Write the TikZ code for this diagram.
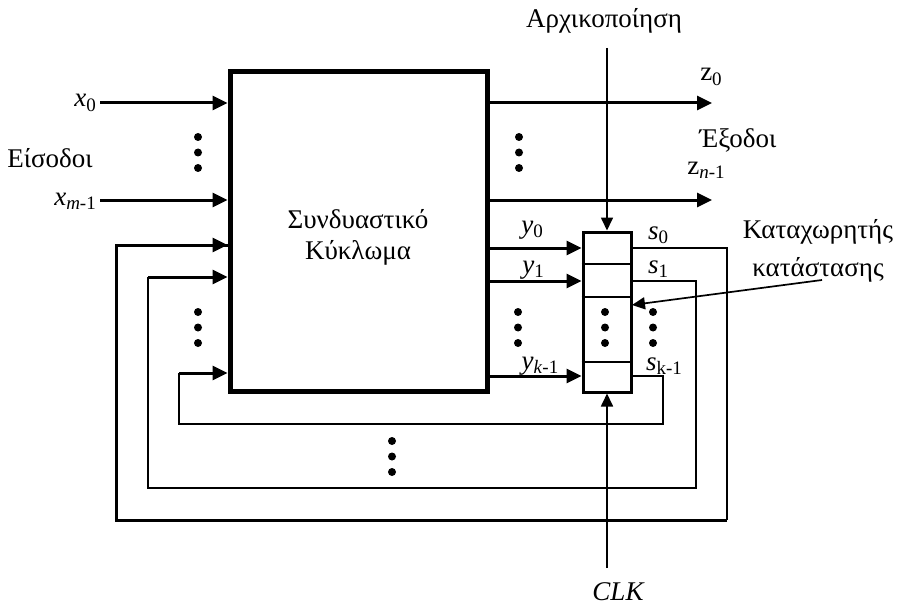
\documentclass[tikz,border=0pt]{standalone}
\usepackage{fontspec}
\setmainfont{Liberation Serif}
\usetikzlibrary{arrows.meta}
\newcommand\sbs[1]{\raisebox{-0.35ex}{\fontsize{19}{19}\selectfont #1}}
\begin{document}
\begin{tikzpicture}[x=1pt,y=-1pt,
  lbl/.style={font=\fontsize{27}{31}\selectfont, inner sep=0pt},
  thickarr/.style={line width=3pt, -{Triangle[length=15pt,width=14pt]}},
  thinarr/.style={line width=1.7pt, -{Triangle[length=13pt,width=12pt]}},
  thinln/.style={line width=1.7pt},
  thickln/.style={line width=3pt},
  dotm/.style={circle, fill, inner sep=0pt, minimum size=8pt},
  rbox/.style={draw, line width=5pt, inner sep=0pt}
]
\useasboundingbox (0,0) rectangle (900,607);

% combinational block
\node[rbox, minimum width=257pt, minimum height=319pt] (box) at (358.5,231.5) {};
\node[lbl, align=center] (boxt) at (358,237) {Συνδυαστικό\\Κύκλωμα};

% register
\node[draw, line width=3pt, inner sep=0pt, minimum width=48pt, minimum height=160pt] (reg) at (607,312) {};
\coordinate (d1) at (607,264);
\coordinate (d2) at (607,297);
\coordinate (d3) at (607,362);
\draw[thinln] (reg.west |- d1) -- (reg.east |- d1);
\draw[thinln] (reg.west |- d2) -- (reg.east |- d2);
\draw[thinln] (reg.west |- d3) -- (reg.east |- d3);

% inputs
\node[lbl, anchor=east] (lx0) at (96,103) {\textit{x}\sbs{0}};
\node[lbl, anchor=east] (lxm) at (96,201) {\textit{x}\sbs{\textit{m}-1}};
\node[lbl] (inp) at (50,158) {Είσοδοι};
\coordinate (x0s) at (100,103);
\coordinate (xms) at (100,200);
\draw[thickarr] (x0s) -- (x0s -| box.west);
\draw[thickarr] (xms) -- (xms -| box.west);

% outputs
\coordinate (z0e) at (712,103);
\coordinate (zne) at (712,200);
\draw[thickarr] (box.east |- z0e) -- (z0e);
\draw[thickarr] (box.east |- zne) -- (zne);
\node[lbl] (lz0) at (711,77) {z\sbs{0}};
\node[lbl] (lzn) at (706,170) {z\sbs{\textit{n}-1}};
\node[lbl] (outp) at (738,140) {Έξοδοι};

% initialization and clock
\node[lbl] (init) at (604,21) {Αρχικοποίηση};
\coordinate (inits) at (607,48);
\draw[thinarr] (inits) -- (reg.north);
\coordinate (clks) at (607,568);
\draw[thinarr] (clks) -- (reg.south);
\node[lbl, font=\fontsize{27}{31}\selectfont\itshape] (clk) at (618,592) {CLK};

% y lines
\coordinate (y0) at (540,248);
\coordinate (y1) at (540,281);
\coordinate (yk) at (540,376);
\draw[thickarr] (box.east |- y0) -- (reg.west |- y0);
\draw[thickarr] (box.east |- y1) -- (reg.west |- y1);
\draw[thickarr] (box.east |- yk) -- (reg.west |- yk);
\node[lbl] (ly0) at (532,230) {\textit{y}\sbs{0}};
\node[lbl] (ly1) at (533,270) {\textit{y}\sbs{1}};
\node[lbl] (lyk) at (540,366) {\textit{y}\sbs{\textit{k}-1}};

% s feedback
\node[lbl] (ls0) at (658,235) {\textit{s}\sbs{0}};
\node[lbl] (ls1) at (658,269) {\textit{s}\sbs{1}};
\node[lbl] (lsk) at (664,366) {\textit{s}\sbs{k-1}};

\coordinate (c0a) at (727,248);
\coordinate (c0b) at (727,520);
\coordinate (c0c) at (116,520);
\coordinate (c0d) at (116,245);
\draw[thinln] (reg.east |- c0a) -- (c0a) -- (c0b);
\draw[thickln, line join=miter] (c0b) -- (c0c) -- (c0d) -- (c0d -| box.west);
\draw[thickarr] (c0d) -- (c0d -| box.west);

\coordinate (c1a) at (696,281);
\coordinate (c1b) at (696,488);
\coordinate (c1c) at (148,488);
\coordinate (c1d) at (148,277);
\draw[thinln] (reg.east |- c1a) -- (c1a) -- (c1b) -- (c1c) -- (c1d);
\draw[thickarr] (c1d) -- (c1d -| box.west);

\coordinate (cka) at (663,376);
\coordinate (ckb) at (663,424);
\coordinate (ckc) at (179,424);
\coordinate (ckd) at (179,373);
\draw[thinln] (reg.east |- cka) -- (cka) -- (ckb) -- (ckc) -- (ckd);
\draw[thickarr] (ckd) -- (ckd -| box.west);

% register label
\node[lbl, align=center, font=\fontsize{27}{38}\selectfont] (regl) at (818,251) {Καταχωρητής\\κατάστασης};
\coordinate (regls) at (822,280);
\coordinate (regle) at (632,305);
\draw[thinarr] (regls) -- (regle);

% dots
\foreach \x/\y [count=\i] in {198/137, 519/137, 198/312, 518/312, 605/312, 653/312, 392/441} {
  \node[dotm] (da\i) at (\x,\y) {};
  \node[dotm] (db\i) at (\x,\y+15.5) {};
  \node[dotm] (dc\i) at (\x,\y+31) {};
}
\end{tikzpicture}
\end{document}
